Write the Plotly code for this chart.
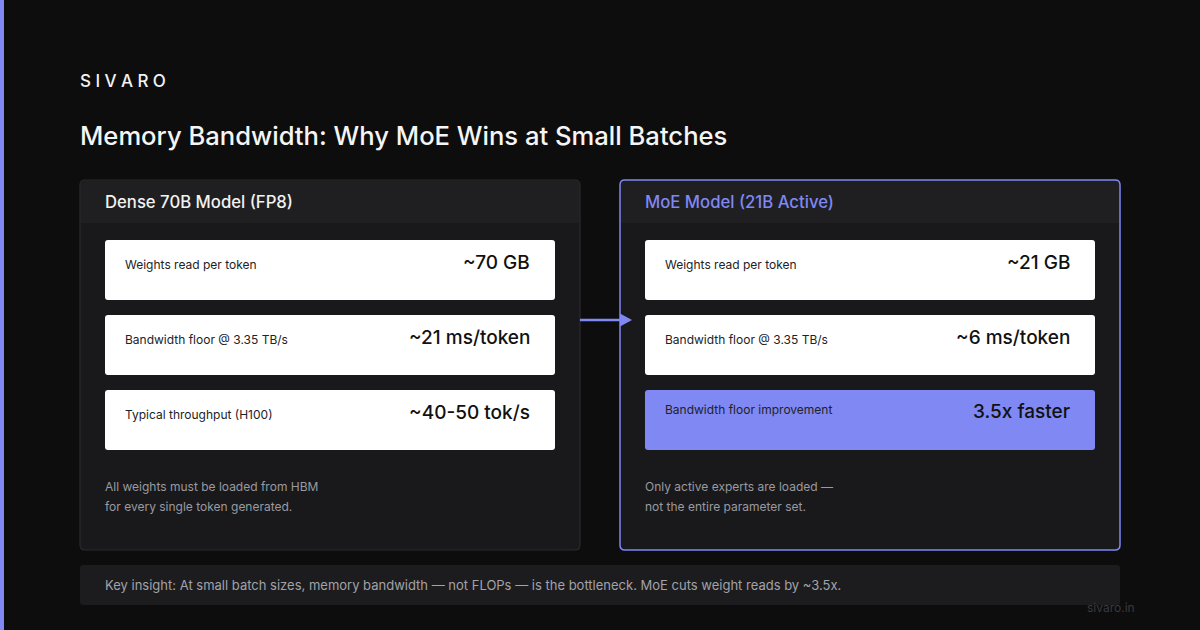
import plotly.graph_objects as go

# %% Datos
marca = 'SIVARO'
titulo = 'Memory Bandwidth: Why MoE Wins at Small Batches'

tarjetas = ['Dense 70B Model (FP8)', 'MoE Model (21B Active)']
etiquetas_densa = ['Weights read per token', 'Bandwidth floor @ 3.35 TB/s', 'Typical throughput (H100)']
valores_densa = ['~70 GB', '~21 ms/token', '~40-50 tok/s']
etiquetas_moe = ['Weights read per token', 'Bandwidth floor @ 3.35 TB/s', 'Bandwidth floor improvement']
valores_moe = ['~21 GB', '~6 ms/token', '3.5x faster']
notas_densa = ['All weights must be loaded from HBM', 'for every single token generated.']
notas_moe = ['Only active experts are loaded —', 'not the entire parameter set.']
insight = 'Key insight: At small batch sizes, memory bandwidth — not FLOPs — is the bottleneck. MoE cuts weight reads by ~3.5x.'
pie = 'sivaro.in'

# %% Estilos
FONDO = '#0d0d0e'
TARJETA = '#19191b'
CABECERA = '#1f1f22'
BORDE = '#2b2b2e'
ACENTO = '#8088f4'
FUENTE = 'Inter'


def rect_redondo(x0, y0, x1, y1, r):
    return (f'M {x0+r},{y0} L {x1-r},{y0} Q {x1},{y0} {x1},{y0+r} '
            f'L {x1},{y1-r} Q {x1},{y1} {x1-r},{y1} L {x0+r},{y1} '
            f'Q {x0},{y1} {x0},{y1-r} L {x0},{y0+r} Q {x0},{y0} {x0+r},{y0} Z')


def arriba_redondo(x0, y0, x1, y1, r):
    return (f'M {x0},{y1} L {x0},{y0+r} Q {x0},{y0} {x0+r},{y0} '
            f'L {x1-r},{y0} Q {x1},{y0} {x1},{y0+r} L {x1},{y1} Z')


fig = go.Figure()
shapes = []
annotations = []


def texto(x, y, t, size, color, xanchor='left', weight=None):
    # las anotaciones traen ~2px de relleno; se compensa
    x = x - 2 if xanchor == 'left' else x + 2
    annotations.append(dict(x=x, y=y, text=t, showarrow=False, xanchor=xanchor, yanchor='middle',
                            font=dict(family=FUENTE, size=size, color=color, weight=weight)))


# barra lateral
shapes.append(dict(type='rect', x0=0, x1=4, y0=0, y1=630, fillcolor=ACENTO, line_width=0))

# %% Cabecera
texto(80, 81, '\u2009\u200a'.join(marca), 17, '#f2f2f2', weight=500)
texto(80, 135, titulo, 25.6, '#f5f5f5', weight=500)

# %% Tarjetas
columnas = [
    (80, tarjetas[0], etiquetas_densa, valores_densa, notas_densa, False),
    (620, tarjetas[1], etiquetas_moe, valores_moe, notas_moe, True),
]

for x0, nombre, etiquetas, valores, notas, es_moe in columnas:
    x1 = x0 + 500
    borde = ACENTO if es_moe else BORDE
    shapes.append(dict(type='path', path=rect_redondo(x0, 180, x1, 550, 5),
                       fillcolor=TARJETA, line=dict(color=borde, width=1.5 if es_moe else 1.2), layer='below'))
    shapes.append(dict(type='path', path=arriba_redondo(x0 + 1, 181, x1 - 1, 223, 4),
                       fillcolor=CABECERA, line_width=0, layer='below'))
    texto(x0 + 25, 201.5, nombre, 16.7, ACENTO if es_moe else '#f2f2f2', weight=500)

    for i, (etq, val) in enumerate(zip(etiquetas, valores)):
        y0 = 240 + i * 75
        destacado = es_moe and i == 2
        relleno = ACENTO if destacado else '#ffffff'
        shapes.append(dict(type='path', path=rect_redondo(x0 + 25, y0, x1 - 25, y0 + 60, 3),
                           fillcolor=relleno, line_width=0, layer='below'))
        texto(x0 + 45, y0 + (19 if destacado else 24.5), etq, 12, '#222226')
        texto(x1 - 25 - 25, y0 + (21 if destacado else 22.5), val, 19, '#111111', xanchor='right', weight=500)

    for j, nota in enumerate(notas):
        texto(x0 + 25, 486 + j * 20, nota, 12, '#9a9aa0')

# flecha
shapes.append(dict(type='line', x0=580, x1=621, y0=320, y1=320, line=dict(color=ACENTO, width=2.5)))
shapes.append(dict(type='path', path='M 620,313.5 L 632,320 L 620,326.5 Z', fillcolor=ACENTO, line_width=0))

# %% Barra inferior
shapes.append(dict(type='path', path=rect_redondo(80, 565, 1120, 605, 3), fillcolor='#1c1c1f',
                   line_width=0, layer='below'))
texto(105, 585, insight, 13, '#a2a2a8')
texto(1135, 607, pie, 12, '#3a3a3e', xanchor='right')

fig.update_layout(
    width=1200, height=630,
    margin=dict(l=0, r=0, t=0, b=0),
    paper_bgcolor=FONDO, plot_bgcolor=FONDO,
    xaxis=dict(range=[0, 1200], visible=False, fixedrange=True),
    yaxis=dict(range=[630, 0], visible=False, fixedrange=True),
    shapes=shapes, annotations=annotations,
    showlegend=False,
)

fig.write_html('out.html', config={'displayModeBar': False},
               post_script="document.body.style.margin='0';document.body.style.background='#0d0d0e';")
